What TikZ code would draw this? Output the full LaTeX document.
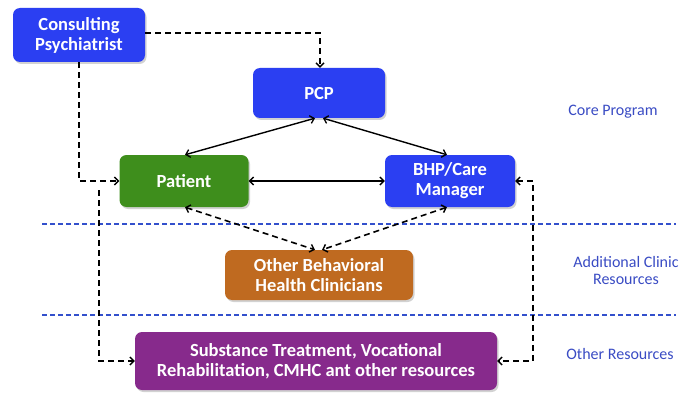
\documentclass[tikz,border=0pt]{standalone}
\usepackage{fontspec}
\setmainfont{Carlito}
\usetikzlibrary{arrows.meta,shadows}
\definecolor{boxblue}{HTML}{2B3FF2}
\definecolor{boxgreen}{HTML}{3E8E1C}
\definecolor{boxorange}{HTML}{BF6A20}
\definecolor{boxpurple}{HTML}{872A8C}
\definecolor{lblblue}{HTML}{3A4CC4}
\definecolor{sepblue}{HTML}{3350CC}
\begin{document}
\begin{tikzpicture}[x=1pt,y=-1pt,
  box/.style={rectangle, rounded corners=7pt, draw=none, text=white, inner sep=0pt,
    align=center, font=\fontsize{18.5}{20}\selectfont\bfseries,
    drop shadow={shadow xshift=1.5pt, shadow yshift=-2pt, opacity=0.35}},
  lbl/.style={text=lblblue, align=center, font=\fontsize{16}{17}\selectfont},
  dashlink/.style={draw=black, line width=1.6pt, dash pattern=on 6pt off 4pt,
    {Straight Barb[length=4pt,width=8pt,line width=1.4pt]}-{Straight Barb[length=4pt,width=8pt,line width=1.4pt]}},
  dashto/.style={draw=black, line width=1.6pt, dash pattern=on 6pt off 4pt,
    -{Straight Barb[length=4pt,width=8pt,line width=1.4pt]}},
  solidlink/.style={draw=black, line width=1.4pt,
    {Straight Barb[length=4pt,width=8pt,line width=1.3pt]}-{Straight Barb[length=4pt,width=8pt,line width=1.3pt]}},
  sep/.style={draw=sepblue, line width=1.3pt, dash pattern=on 5pt off 3pt}
]
\useasboundingbox (0,0) rectangle (690,393);
\fill[white] (0,0) rectangle (690,393);

% separators
\draw[sep] (42,224) -- (676,224);
\draw[sep] (42,315) -- (676,315);

% nodes
\node[box, fill=boxblue, minimum width=132pt, minimum height=54pt] (cp) at (79,35) {Consulting\\Psychiatrist};
\node[box, fill=boxblue, minimum width=132pt, minimum height=50pt] (pcp) at (319,93) {PCP};
\node[box, fill=boxgreen, minimum width=129pt, minimum height=52pt] (pat) at (184,181) {Patient};
\node[box, fill=boxblue, minimum width=130pt, minimum height=52pt] (bhp) at (450,181) {BHP/Care\\Manager};
\node[box, fill=boxorange, minimum width=188pt, minimum height=50pt] (obh) at (319,275) {Other Behavioral\\Health Clinicians};
\node[box, fill=boxpurple, minimum width=362pt, minimum height=58pt] (sub) at (316,361) {Substance Treatment, Vocational\\Rehabilitation, CMHC ant other resources};

% labels
\node[lbl] (l1) at (613,112) {Core Program};
\node[lbl] (l2) at (626,271) {Additional Clinic\\Resources};
\node[lbl] (l3) at (620,354) {Other Resources};

% coordinates
\coordinate (c1) at (320,33);
\coordinate (c2) at (79,181);
\coordinate (c3) at (99,190);
\coordinate (c4) at (99,361);
\coordinate (c5) at (533,181);
\coordinate (c6) at (533,361);

% connectors
\draw[dashto] (cp.east |- c1) -- (c1) -- (c1 |- pcp.north);
\draw[dashto] (c2 |- cp.south) -- (c2) -- (pat.west);
\draw[dashto] (c3) -- (c4) -- (sub.west);
\draw[dashlink] (bhp.east) -- (c5) -- (c6) -- (sub.east);
\draw[solidlink] ([xshift=-4pt]pcp.south) -- ([xshift=1pt]pat.north);
\draw[solidlink] ([xshift=4pt]pcp.south) -- ([xshift=-3pt]bhp.north);
\draw[solidlink] (pat.east) -- (bhp.west);
\draw[dashlink] ([xshift=1pt]pat.south) -- ([xshift=-4pt]obh.north);
\draw[dashlink] ([xshift=-3pt]bhp.south) -- ([xshift=3pt]obh.north);
\end{tikzpicture}
\end{document}
